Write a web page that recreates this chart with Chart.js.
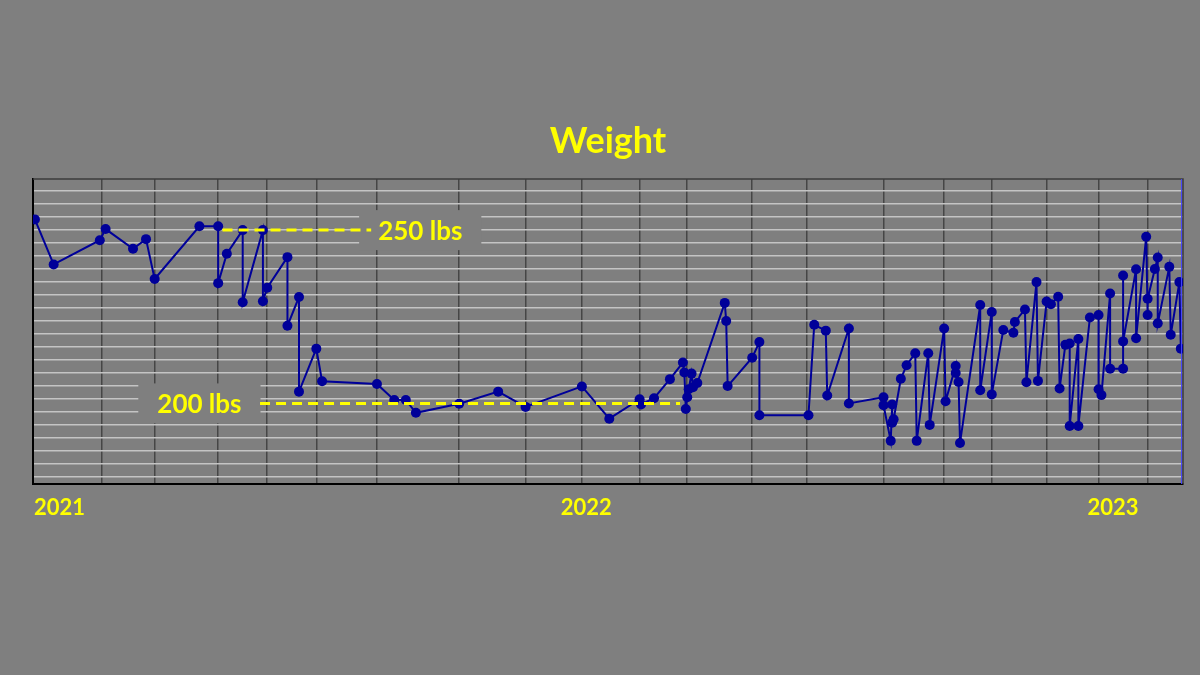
<!DOCTYPE html>
<html>
<head>
<meta charset="utf-8">
<title>Weight</title>
<script src="https://cdn.jsdelivr.net/npm/chart.js@4.4.0/dist/chart.umd.min.js"></script>
<style>
  html, body { margin: 0; padding: 0; background: #7f7f7f; }
  #wrap { width: 1200px; height: 675px; }
</style>
</head>
<body>
<div id="wrap"><canvas id="weight_chart"></canvas></div>
<script>
// day numbers are counted from 1 Jan 2021
const logDays = [
    -17, -4, 28, 32, 51, 60, 66, 97, 110, 110,
    116, 127, 127, 141, 141, 144, 158, 158, 166, 166,
    178, 182, 220, 232, 240, 247, 277, 304, 323, 362,
    381, 402, 403, 412, 423, 432, 433, 434, 435, 436,
    438, 439, 442, 461, 462, 463, 480, 485, 485, 519,
    523, 531, 532, 547, 547, 571, 571, 576, 577, 577,
    578, 583, 587, 593, 594, 602, 603, 613, 614, 621,
    621, 623, 624, 638, 638, 646, 646, 654, 661, 662,
    669, 670, 677, 678, 684, 687, 692, 693, 697, 700,
    700, 706, 706, 714, 720, 720, 722, 728, 728, 737,
    737, 737, 746, 746, 753, 754, 754, 759, 761, 761,
    769, 770, 776, 777
];
const logWeights = [
    253.1, 240.1, 247.1, 250.3, 244.6, 247.4, 235.9, 251.1, 251.1, 234.7,
    243.2, 250.0, 229.2, 250.0, 229.5, 233.4, 242.2, 222.4, 230.7, 203.4,
    215.8, 206.4, 205.6, 201.0, 201.0, 197.3, 199.9, 203.4, 199.0, 204.9,
    195.6, 201.2, 199.7, 201.5, 207.0, 211.8, 208.9, 198.4, 201.8, 204.1,
    208.6, 204.7, 205.9, 229.0, 223.8, 205.0, 213.2, 217.7, 196.6, 196.6,
    222.7, 221.0, 202.3, 221.6, 200.0, 201.8, 199.5, 189.2, 199.7, 194.4,
    195.4, 207.1, 211.0, 214.5, 189.2, 214.5, 193.8, 221.6, 200.6, 210.8,
    208.8, 206.2, 188.6, 228.4, 203.8, 226.4, 202.6, 221.2, 220.4, 223.5,
    227.1, 206.1, 235.0, 206.5, 229.4, 228.6, 230.8, 204.3, 216.9, 217.3,
    193.5, 218.6, 193.5, 224.8, 225.5, 204.1, 202.4, 231.7, 210.0, 210.0,
    236.9, 217.9, 238.7, 218.8, 248.1, 225.5, 230.2, 238.8, 242.1, 223.1,
    239.4, 219.8, 235.0, 215.8
];

// days that get a dark vertical line
const markerDays = [29, 66, 110, 144, 178, 220, 277, 323, 362, 402, 435, 480, 518, 571, 613, 646, 684, 720, 754];
const todayDay = 777.5;

const yearDays = [0, 365, 730];
const yearLabels = ['2021', '2022', '2023'];

const targetLines = [
    { lbs: 250, fromDay: 113, toDay: 216, text: '250 lbs', textDay: 250 },
    { lbs: 200, fromDay: 139, toDay: 430, text: '200 lbs', textDay: 97 }
];

const xMin = -18.3, xMax = 778.5;
const yMin = 176.75, yMax = 264.75;
const gridBase = 250, gridStep = 3.75;

const FONT = "Lato, 'Open Sans', sans-serif";
const YELLOW = '#ffff00';
const BG = '#7f7f7f';

function createData(xValues, yValues) {
    return xValues.map((x, i) => ({ x: x, y: yValues[i] }));
}

const frameLines = {
    id: 'frameLines',
    beforeDatasetsDraw(chart) {
        const { ctx, chartArea: a } = chart;
        ctx.save();
        ctx.strokeStyle = '#3c3c3c';
        ctx.lineWidth = 1.5;
        ctx.beginPath();
        ctx.moveTo(a.left, a.top);
        ctx.lineTo(a.right, a.top);
        ctx.lineTo(a.right, a.bottom);
        ctx.stroke();
        ctx.restore();
    },
    afterDatasetsDraw(chart) {
        const { ctx, chartArea: a, scales: { x } } = chart;
        const px = x.getPixelForValue(todayDay);
        ctx.save();
        ctx.strokeStyle = '#4646ff';
        ctx.lineWidth = 1;
        ctx.beginPath();
        ctx.moveTo(px, a.top);
        ctx.lineTo(px, a.bottom);
        ctx.stroke();
        ctx.restore();
    }
};

const targetMarks = {
    id: 'targetMarks',
    beforeDatasetsDraw(chart) {
        const { ctx, scales: { x, y } } = chart;
        ctx.save();
        ctx.font = 'bold 26px ' + FONT;
        ctx.fillStyle = BG;
        targetLines.forEach(t => {
            const w = ctx.measureText(t.text).width + 38;
            const cx = x.getPixelForValue(t.textDay);
            const cy = y.getPixelForValue(t.lbs);
            ctx.fillRect(cx - w / 2, cy - 20, w, 40);
        });
        ctx.restore();
    },
    afterDatasetsDraw(chart) {
        const { ctx, scales: { x, y } } = chart;
        ctx.save();
        targetLines.forEach(t => {
            const py = y.getPixelForValue(t.lbs);
            ctx.strokeStyle = YELLOW;
            ctx.lineWidth = 3;
            ctx.setLineDash([10, 6]);
            ctx.beginPath();
            ctx.moveTo(x.getPixelForValue(t.fromDay), py);
            ctx.lineTo(x.getPixelForValue(t.toDay), py);
            ctx.stroke();
            ctx.setLineDash([]);
            ctx.font = 'bold 26px ' + FONT;
            ctx.fillStyle = YELLOW;
            ctx.textAlign = 'center';
            ctx.textBaseline = 'middle';
            ctx.fillText(t.text, x.getPixelForValue(t.textDay), py + 1);
        });
        ctx.restore();
    }
};

const ctx1 = document.getElementById('weight_chart').getContext('2d');

const weightChart = new Chart(ctx1, {
    type: 'line',
    data: {
        datasets: [{
            label: 'Weight',
            data: createData(logDays, logWeights),
            borderColor: '#000099',
            backgroundColor: '#000099',
            borderWidth: 2,
            pointRadius: 5,
            pointHoverRadius: 5,
            pointBorderWidth: 0,
            tension: 0
        }]
    },
    options: {
        responsive: true,
        maintainAspectRatio: false,
        animation: false,
        layout: {
            padding: { left: 33, right: 17, top: 0, bottom: 151 }
        },
        scales: {
            x: {
                type: 'linear',
                min: xMin,
                max: xMax,
                afterBuildTicks: s => {
                    s.ticks = [...markerDays, ...yearDays].sort((a, b) => a - b).map(v => ({ value: v }));
                },
                afterFit: s => { s.height = 40; },
                ticks: {
                    autoSkip: false,
                    maxRotation: 0,
                    padding: 11,
                    color: YELLOW,
                    font: { family: FONT, size: 22, weight: 'bold' },
                    callback: v => {
                        const i = yearDays.indexOf(v);
                        return i >= 0 ? yearLabels[i] : '';
                    }
                },
                grid: {
                    drawTicks: false,
                    lineWidth: 1.5,
                    color: c => (c.tick && markerDays.includes(c.tick.value)) ? '#464646' : 'rgba(0,0,0,0)'
                },
                border: { color: '#000000', width: 2 }
            },
            y: {
                min: yMin,
                max: yMax,
                afterBuildTicks: s => {
                    const t = [];
                    let v = gridBase + gridStep * Math.floor((yMax - gridBase) / gridStep);
                    for (; v >= yMin; v -= gridStep) t.push({ value: v });
                    s.ticks = t;
                },
                afterFit: s => { s.width = 0; },
                ticks: { display: false },
                grid: { drawTicks: false, color: '#c4c4c4', lineWidth: 1.5 },
                border: { color: '#000000', width: 2 }
            }
        },
        plugins: {
            legend: { display: false },
            tooltip: { enabled: false },
            title: {
                display: true,
                text: 'Weight',
                color: YELLOW,
                font: { family: FONT, size: 36, weight: 'bold' },
                padding: { top: 119.4, bottom: 16.4 }
            }
        }
    },
    plugins: [frameLines, targetMarks]
});
</script>
</body>
</html>
